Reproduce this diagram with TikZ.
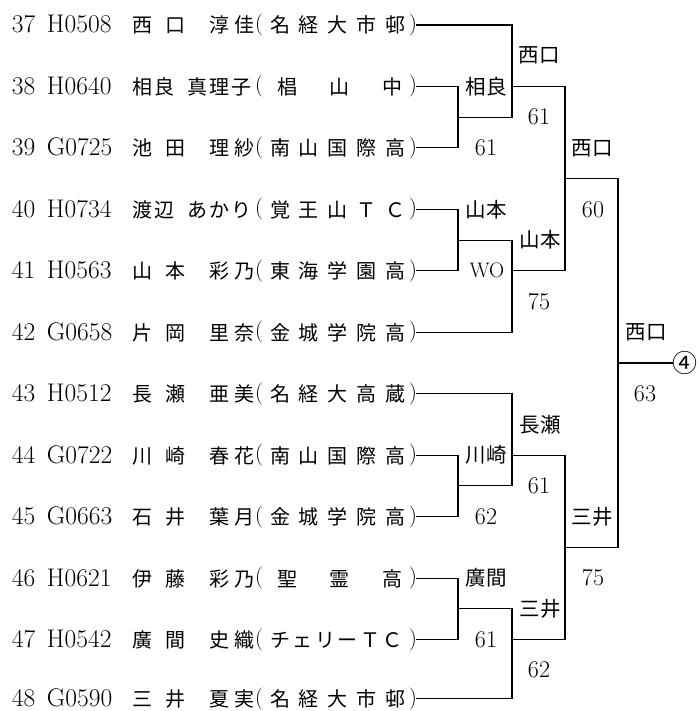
\documentclass[tikz,border=0pt]{standalone}
\usepackage{fontspec}
\newfontfamily\jp{Noto Sans CJK JP}
\newcommand\jps{\jp\fontsize{20pt}{20pt}\selectfont}
\newcommand\jpl{\jp\fontsize{20.5pt}{20.5pt}\selectfont}
\newcommand\myJ[2]{\rlap{\kern\dimexpr#1pt-12pt\relax\makebox[0pt]{\jps #2}}}
\newcommand\myP[2]{\rlap{\kern\dimexpr#1pt-12pt\relax\makebox[0pt]{\smash{\raisebox{2.5pt}{\fontsize{22pt}{22pt}\selectfont #2}}}}}
\newcommand\myLL[2]{\rlap{\kern\dimexpr#1pt-12pt\relax #2}}
\newcommand\nameA[4]{\myJ{142}{#1}\myJ{176}{#2}\myJ{220}{#3}\myJ{245}{#4}}
\newcommand\nameB[5]{\myJ{142}{#1}\myJ{164.5}{#2}\myJ{198}{#3}\myJ{220}{#4}\myJ{242}{#5}}
\newcommand\schE[5]{\myJ{280}{#1}\myJ{308.75}{#2}\myJ{337.5}{#3}\myJ{366.25}{#4}\myJ{395}{#5}}
\newcommand\schT[3]{\myJ{287}{#1}\myJ{340}{#2}\myJ{393}{#3}}
\newcommand\schS[6]{\myJ{280}{#1}\myJ{302.5}{#2}\myJ{325}{#3}\myJ{347.5}{#4}\myJ{370}{#5}\myJ{392.5}{#6}}
\newcommand\rowbody[4]{\hbox to 405pt{\myLL{12}{#1}\myLL{47}{#2}#3\myP{259}{(}#4\myP{413}{)}\hfil}}
\tikzset{
  rowtext/.style={inner sep=0pt, outer sep=0pt, anchor=base west, font=\fontsize{25.5pt}{25.5pt}\selectfont},
  lab/.style={inner sep=0pt, outer sep=0pt, anchor=center, font=\fontsize{24pt}{24pt}\selectfont},
  br/.style={line width=1.1pt, line cap=rect}
}
\begin{document}
\begin{tikzpicture}[x=1pt,y=1pt]
\useasboundingbox (0,0) rectangle (698,-711);
% rows
\node[rowtext] (r37) at (12,-33) {\rowbody{37}{H0508}{\nameA{西}{口}{淳}{佳}}{\schE{名}{経}{大}{市}{邨}}};
\node[rowtext] (r38) at (12,-94.45) {\rowbody{38}{H0640}{\nameB{相}{良}{真}{理}{子}}{\schT{椙}{山}{中}}};
\node[rowtext] (r39) at (12,-155.9) {\rowbody{39}{G0725}{\nameA{池}{田}{理}{紗}}{\schE{南}{山}{国}{際}{高}}};
\node[rowtext] (r40) at (12,-217.35) {\rowbody{40}{H0734}{\nameB{渡}{辺}{あ}{か}{り}}{\schE{覚}{王}{山}{Ｔ}{Ｃ}}};
\node[rowtext] (r41) at (12,-278.8) {\rowbody{41}{H0563}{\nameA{山}{本}{彩}{乃}}{\schE{東}{海}{学}{園}{高}}};
\node[rowtext] (r42) at (12,-340.25) {\rowbody{42}{G0658}{\nameA{片}{岡}{里}{奈}}{\schE{金}{城}{学}{院}{高}}};
\node[rowtext] (r43) at (12,-401.7) {\rowbody{43}{H0512}{\nameA{長}{瀬}{亜}{美}}{\schE{名}{経}{大}{高}{蔵}}};
\node[rowtext] (r44) at (12,-463.15) {\rowbody{44}{G0722}{\nameA{川}{崎}{春}{花}}{\schE{南}{山}{国}{際}{高}}};
\node[rowtext] (r45) at (12,-524.6) {\rowbody{45}{G0663}{\nameA{石}{井}{葉}{月}}{\schE{金}{城}{学}{院}{高}}};
\node[rowtext] (r46) at (12,-586.05) {\rowbody{46}{H0621}{\nameA{伊}{藤}{彩}{乃}}{\schT{聖}{霊}{高}}};
\node[rowtext] (r47) at (12,-647.5) {\rowbody{47}{H0542}{\nameA{廣}{間}{史}{織}}{\schS{チ}{ェ}{リ}{ー}{Ｔ}{Ｃ}}};
\node[rowtext] (r48) at (12,-706.5) {\rowbody{48}{G0590}{\nameA{三}{井}{夏}{実}}{\schE{名}{経}{大}{市}{邨}}};
% row ends
\foreach \r in {37,...,48}{\coordinate (e\r) at ([yshift=8pt]r\r.base east);}
% columns
\coordinate (X1) at (458,0);
\coordinate (X2) at (512,0);
\coordinate (X3) at (565,0);
\coordinate (X4) at (618,0);
% junction levels
\coordinate (k3) at (0,-117.18);
\coordinate (k5) at (0,-178.63);
\coordinate (k7) at (0,-240.08);
\coordinate (k11) at (0,-362.98);
\coordinate (k15) at (0,-485.88);
\coordinate (k17) at (0,-547.33);
\coordinate (k19) at (0,-608.78);
% first block
\draw[br] (e38) -| (X1 |- e39) -- (e39);
\draw[br] (X1 |- k3) -- (X2 |- k3);
\draw[br] (e37) -| (X2 |- k3);
\draw[br] (X2 |- e38) -- (X3 |- e38);
\draw[br] (e40) -| (X1 |- e41) -- (e41);
\draw[br] (X1 |- k7) -- (X2 |- k7);
\draw[br] (e42) -| (X2 |- k7);
\draw[br] (X2 |- e41) -- (X3 |- e41);
\draw[br] (X3 |- e38) -- (X3 |- e41);
\draw[br] (X3 |- k5) -- (X4 |- k5);
% second block
\draw[br] (e44) -| (X1 |- e45) -- (e45);
\draw[br] (X1 |- k15) -- (X2 |- k15);
\draw[br] (e43) -| (X2 |- k15);
\draw[br] (X2 |- e44) -- (X3 |- e44);
\draw[br] (e46) -| (X1 |- e47) -- (e47);
\draw[br] (X1 |- k19) -- (X2 |- k19);
\draw[br] (e48) -| (X2 |- k19);
\draw[br] (X2 |- e47) -- (X3 |- e47);
\draw[br] (X3 |- e44) -- (X3 |- e47);
\draw[br] (X3 |- k17) -- (X4 |- k17);
% final
\draw[br] (X4 |- k5) -- (X4 |- k17);
\node[lab, anchor=west] (win) at (672.5,-362.98) {\jp\fontsize{25pt}{25pt}\selectfont ④};
\draw[br] (X4 |- k11) -- (win.west);
% labels
\node[lab] (l1) at (539,-55.73) {\jpl 西口};
\node[lab] (l2) at (486,-86.45) {\jpl 相良};
\node[lab] (l3) at (539,-117.18) {61};
\node[lab] (l4) at (486,-147.9) {61};
\node[lab] (l5) at (592,-147.9) {\jpl 西口};
\node[lab] (l6) at (486,-209.35) {\jpl 山本};
\node[lab] (l7) at (593,-209.35) {60};
\node[lab] (l8) at (540,-240.08) {\jpl 山本};
\node[lab] (l9) at (487,-270.8) {\fontsize{21pt}{21pt}\selectfont WO};
\node[lab] (l10) at (539,-301.53) {75};
\node[lab] (l11) at (646,-332.25) {\jpl 西口};
\node[lab] (l12) at (645,-393.7) {63};
\node[lab] (l13) at (540,-424.43) {\jpl 長瀬};
\node[lab] (l14) at (486,-455.15) {\jpl 川崎};
\node[lab] (l15) at (539,-485.88) {61};
\node[lab] (l16) at (486,-516.6) {62};
\node[lab] (l17) at (592,-516.6) {\jpl 三井};
\node[lab] (l18) at (486,-578.05) {\jpl 廣間};
\node[lab] (l19) at (593,-578.05) {75};
\node[lab] (l20) at (540,-608.78) {\jpl 三井};
\node[lab] (l21) at (486,-639.5) {61};
\node[lab] (l22) at (539,-670.23) {62};
\end{tikzpicture}
\end{document}
